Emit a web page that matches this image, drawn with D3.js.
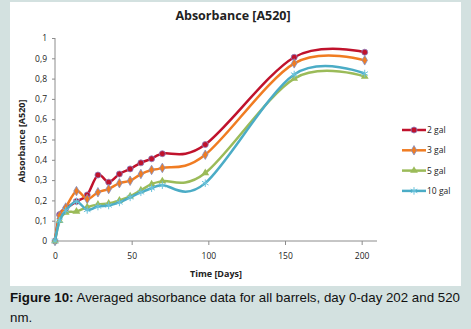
<!DOCTYPE html>
<html>
<head>
<meta charset="utf-8">
<script src="https://cdn.jsdelivr.net/npm/d3@7"></script>
<style>
  body { margin:0; background:#d3e1e0; }
  svg { display:block; }
</style>
</head>
<body>
<svg id="chart" width="471" height="329"></svg>
<script>
var days = [0, 3, 7, 14, 21, 28, 35, 42, 49, 56, 63, 70, 98, 156, 202];
var gal2  = [0, 0.13, 0.16, 0.195, 0.227, 0.325, 0.29, 0.33, 0.355, 0.385, 0.405, 0.43, 0.475, 0.905, 0.93];
var gal3  = [0, 0.125, 0.165, 0.246, 0.207, 0.24, 0.256, 0.285, 0.297, 0.33, 0.35, 0.36, 0.425, 0.875, 0.89];
var gal5  = [0, 0.1, 0.14, 0.145, 0.167, 0.18, 0.185, 0.2, 0.22, 0.25, 0.28, 0.295, 0.335, 0.80, 0.81];
var gal10 = [0, 0.1, 0.15, 0.195, 0.153, 0.17, 0.175, 0.19, 0.215, 0.24, 0.26, 0.275, 0.285, 0.82, 0.825];
var seriesNames = ['2 gal', '3 gal', '5 gal', '10 gal'];
var seriesColors = ['#c0122c', '#f07c22', '#9bbb59', '#4bacc6'];
var yTicks = [0, 0.1, 0.2, 0.3, 0.4, 0.5, 0.6, 0.7, 0.8, 0.9, 1];
var xTicks = [0, 50, 100, 150, 200];

var allSeries = [gal2, gal3, gal5, gal10];
var markers = ['circle', 'diamond', 'triangle', 'star'];

var svg = d3.select('#chart');

// white panel
svg.append('rect')
    .attr('x', 10).attr('y', 2)
    .attr('width', 451).attr('height', 284)
    .attr('fill', 'white');

var xScale = d3.scaleLinear().domain([0, 210]).range([55, 377]);
var yScale = d3.scaleLinear().domain([0, 1]).range([241, 38]);

var fmt = function(d){ return d === 0 ? '0' : (d === 1 ? '1' : d3.format('.1f')(d).replace('.', ',')); };

// y axis
var yAxis = d3.axisLeft(yScale).tickValues(yTicks).tickSize(3).tickPadding(5).tickFormat(fmt);
var gy = svg.append('g').attr('transform', 'translate(55,0)').call(yAxis);
gy.selectAll('path, line').attr('stroke', '#8c8c8c');
gy.select('.domain').attr('d', 'M0,' + yScale(1) + 'V' + yScale(0));
gy.selectAll('text').attr('font-family', 'Open Sans, sans-serif').attr('font-size', 8.5).attr('fill', '#222');

// x axis
var xAxis = d3.axisBottom(xScale).tickValues(xTicks).tickSize(4).tickPadding(8);
var gx = svg.append('g').attr('transform', 'translate(0,241)').call(xAxis);
gx.selectAll('path, line').attr('stroke', '#8c8c8c');
gx.select('.domain').attr('d', 'M55,0H377');
gx.selectAll('text').attr('font-family', 'Open Sans, sans-serif').attr('font-size', 8.5).attr('fill', '#222');

// titles
svg.append('text')
    .attr('x', 233).attr('y', 20)
    .attr('text-anchor', 'middle')
    .attr('font-family', 'Open Sans, sans-serif')
    .attr('font-weight', 'bold').attr('font-size', 12.5)
    .attr('fill', '#222')
    .text('Absorbance [A520]');

svg.append('text')
    .attr('x', 216).attr('y', 277)
    .attr('text-anchor', 'middle')
    .attr('font-family', 'Open Sans, sans-serif')
    .attr('font-weight', 'bold').attr('font-size', 9)
    .attr('fill', '#222')
    .text('Time [Days]');

svg.append('text')
    .attr('transform', 'translate(25,141) rotate(-90)')
    .attr('text-anchor', 'middle')
    .attr('font-family', 'Open Sans, sans-serif')
    .attr('font-weight', 'bold').attr('font-size', 9)
    .attr('fill', '#222')
    .text('Absorbance [A520]');

// excel-style smoothing ~ uniform catmull-rom
var line = d3.line()
    .x(function(d, i){ return xScale(days[i]); })
    .y(function(d){ return yScale(d); })
    .curve(d3.curveCatmullRom.alpha(0));

function drawMarker(g, type, color, x, y) {
    if (type === 'circle') {
        g.append('circle').attr('cx', x).attr('cy', y).attr('r', 3)
            .attr('fill', color).attr('stroke', '#8a7fc0').attr('stroke-width', 0.8);
    } else if (type === 'diamond') {
        g.append('path').attr('d', d3.symbol().type(d3.symbolDiamond).size(26)())
            .attr('transform', 'translate(' + x + ',' + y + ')')
            .attr('fill', color).attr('stroke', '#7f8fc8').attr('stroke-width', 0.8);
    } else if (type === 'triangle') {
        g.append('path').attr('d', d3.symbol().type(d3.symbolTriangle).size(26)())
            .attr('transform', 'translate(' + x + ',' + y + ')')
            .attr('fill', color);
    } else {
        g.append('path').attr('d', d3.symbol().type(d3.symbolAsterisk).size(40)())
            .attr('transform', 'translate(' + x + ',' + y + ')')
            .attr('fill', 'none').attr('stroke', '#6cc3dc').attr('stroke-width', 1);
    }
}

allSeries.forEach(function(vals, s){
    var g = svg.append('g');
    g.append('path')
        .attr('d', line(vals))
        .attr('fill', 'none')
        .attr('stroke', seriesColors[s])
        .attr('stroke-width', 2.5);
    vals.forEach(function(v, i){
        drawMarker(g, markers[s], seriesColors[s], xScale(days[i]), yScale(v));
    });
});

// legend
seriesNames.forEach(function(name, i){
    var ly = 130 + i * 20.3;
    var g = svg.append('g');
    g.append('line').attr('x1', 402).attr('x2', 426).attr('y1', ly).attr('y2', ly)
        .attr('stroke', seriesColors[i]).attr('stroke-width', 2.5);
    drawMarker(g, markers[i], seriesColors[i], 414, ly);
    g.append('text').attr('x', 427).attr('y', ly + 3)
        .attr('font-family', 'Open Sans, sans-serif').attr('font-size', 8.5)
        .attr('fill', '#222').text(name);
});

// caption
var cap = svg.append('text')
    .attr('x', 10).attr('y', 302)
    .attr('font-family', 'Liberation Sans, Arial, sans-serif')
    .attr('font-size', 13.3).attr('fill', '#111');
cap.append('tspan').attr('font-weight', 'bold').text('Figure 10:');
cap.append('tspan').text(' Averaged absorbance data for all barrels, day 0-day 202 and 520');
svg.append('text')
    .attr('x', 10).attr('y', 322)
    .attr('font-family', 'Liberation Sans, Arial, sans-serif')
    .attr('font-size', 13.3).attr('fill', '#111')
    .text('nm.');
</script>
</body>
</html>
